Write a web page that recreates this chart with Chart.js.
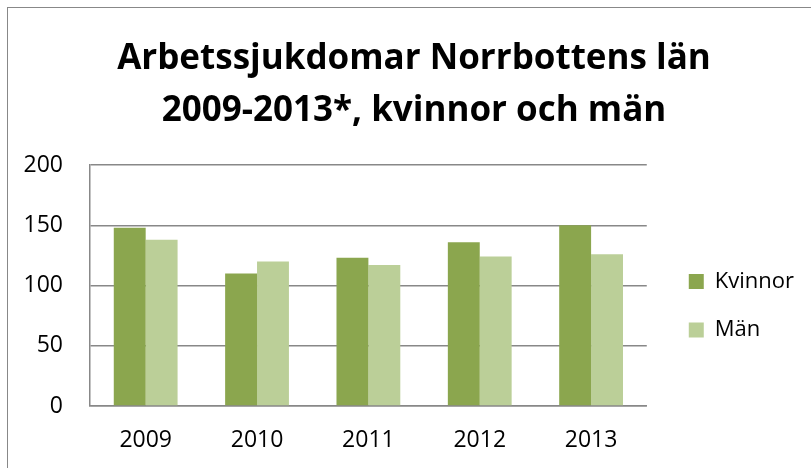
<!DOCTYPE html>
<html lang="sv">
<head>
<meta charset="utf-8">
<title>Arbetssjukdomar Norrbottens län</title>
<script src="https://cdn.jsdelivr.net/npm/chart.js@4.4.1/dist/chart.umd.min.js"></script>
<style>
    html, body { margin: 0; padding: 0; background: #fff; overflow: hidden; }
    #ram {
        position: absolute; left: 7px; top: 7px;
        width: 812px; height: 461px;
        border-left: 1px solid #888; border-top: 1px solid #888;
    }
    #ram canvas { display: block; }
</style>
</head>
<body>
<div id="ram"><canvas id="grafik" width="812" height="461"></canvas></div>
<script>
// Data
const ar = ['2009', '2010', '2011', '2012', '2013'];
const kvinnor = [148, 110, 123, 136, 150];
const man = [138, 120, 117, 124, 126];
const yTicks = [0, 50, 100, 150, 200];

const typsnitt = "'Open Sans', 'DejaVu Sans', sans-serif";
const linjeFarg = '#888888';

Chart.defaults.font.family = typsnitt;
Chart.defaults.color = '#000000';

const ctx = document.getElementById('grafik').getContext('2d');
new Chart(ctx, {
    type: 'bar',
    data: {
        labels: ar,
        datasets: [
            { label: 'Kvinnor', data: kvinnor, backgroundColor: '#8ba64e' },
            { label: 'Män', data: man, backgroundColor: '#bbcf98' }
        ]
    },
    options: {
        responsive: false,
        animation: false,
        layout: { padding: { left: 16, right: 16, top: 0, bottom: 14 } },
        datasets: { bar: { categoryPercentage: 0.573, barPercentage: 1.0 } },
        scales: {
            x: {
                grid: { display: false, drawTicks: false },
                border: { display: true, color: linjeFarg, width: 1.5 },
                ticks: { padding: 21, font: { size: 23 } },
                afterFit: (s) => { s.height = 49; }
            },
            y: {
                min: 0,
                max: 200,
                afterBuildTicks: (s) => { s.ticks = yTicks.map(v => ({ value: v })); },
                grid: { color: linjeFarg, lineWidth: 1.5, drawTicks: false },
                border: { display: true, color: linjeFarg, width: 1.5 },
                ticks: { padding: 27, font: { size: 23 } },
                afterFit: (s) => { s.width = 66; }
            },
            // tomt utrymme mellan diagramytan och förklaringen
            mellanrum: {
                type: 'linear',
                position: 'right',
                display: true,
                grid: { display: false, drawTicks: false },
                border: { display: false },
                ticks: { display: false },
                afterFit: (s) => { s.width = 15.5; }
            }
        },
        plugins: {
            title: {
                display: true,
                text: ['Arbetssjukdomar Norrbottens län', '2009-2013*, kvinnor och män'],
                font: { size: 35, weight: 'bold', lineHeight: 1.486 },
                color: '#000',
                padding: { top: 25, bottom: 28 }
            },
            legend: {
                position: 'right',
                align: 'start',
                maxWidth: 200,
                // tom rubrik som flyttar ner förklaringen
                title: { display: true, text: '', font: { size: 10, lineHeight: 1 }, padding: { top: 226, bottom: 0 } },
                labels: {
                    boxWidth: 15,
                    boxHeight: 15,
                    padding: 26.5,
                    font: { size: 22 },
                    color: '#000'
                }
            },
            tooltip: { enabled: false }
        }
    }
});
</script>
</body>
</html>
